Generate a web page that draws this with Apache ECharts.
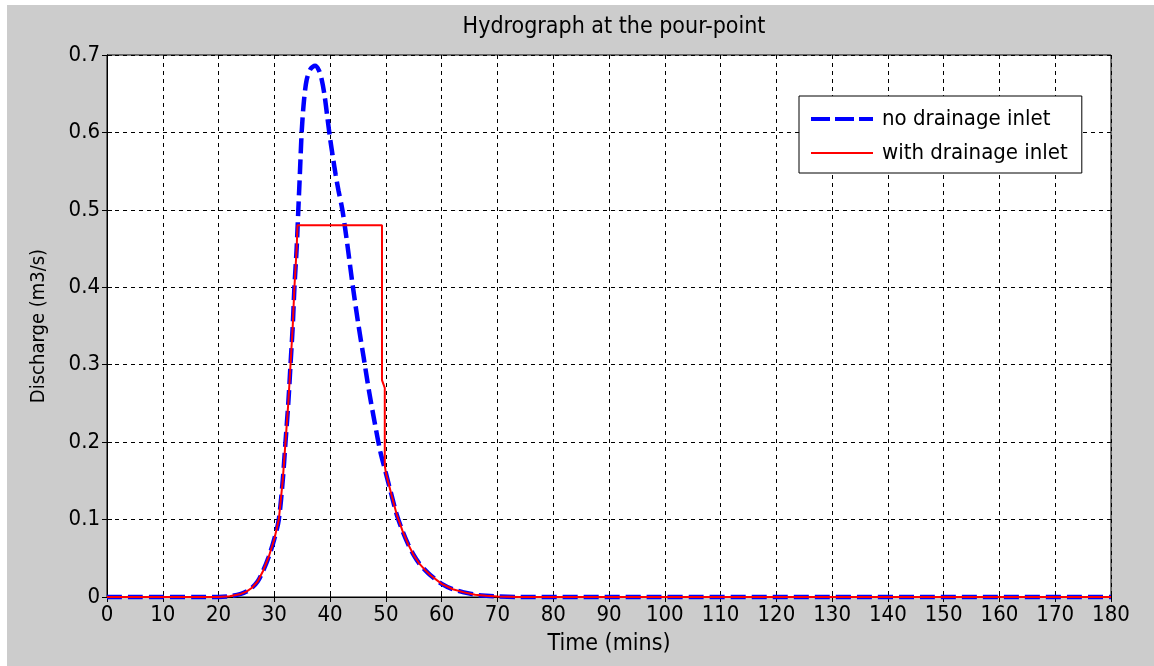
<!DOCTYPE html>
<html>
<head>
<meta charset="utf-8">
<script src="https://cdn.jsdelivr.net/npm/echarts@6/dist/echarts.min.js"></script>
<style>
  html, body { margin: 0; padding: 0; background: #ffffff; width: 1154px; height: 666px; overflow: hidden; }
  #chart { position: absolute; left: 7px; top: 5px; width: 1147px; height: 661px; background: #cccccc; }
</style>
</head>
<body>
<div id="chart"></div>
<script>
// ---- data ----
const titleText = 'Hydrograph at the pour-point';
const xAxisName = 'Time (mins)';
const yAxisName = 'Discharge (m3/s)';
const seriesNames = ['no drainage inlet', 'with drainage inlet'];

// No drainage inlet: time (min) and discharge (m3/s)
const blueTime = [0, 20, 22, 24, 25, 26, 27, 28, 29, 30, 30.8, 31.5, 32, 32.5, 32.9, 33.3, 33.6, 34, 34.3, 34.6, 34.9, 35.3, 35.8, 36.5, 37.3, 38, 38.5, 39, 39.5, 40, 40.5, 41, 41.5, 42.2, 43, 44, 45, 46, 47, 48, 49, 50, 51, 52, 53, 54, 55, 56, 57, 58, 60, 62, 64, 66, 68, 70, 74, 180];
const blueQ    = [0, 0, 0.001, 0.004, 0.007, 0.012, 0.02, 0.034, 0.052, 0.075, 0.1, 0.15, 0.2, 0.25, 0.3, 0.35, 0.4, 0.45, 0.5, 0.55, 0.6, 0.64, 0.668, 0.682, 0.686, 0.68, 0.668, 0.648, 0.62, 0.592, 0.568, 0.545, 0.525, 0.5, 0.46, 0.405, 0.355, 0.31, 0.265, 0.225, 0.188, 0.16, 0.132, 0.105, 0.085, 0.068, 0.054, 0.043, 0.035, 0.028, 0.017, 0.01, 0.006, 0.003, 0.0015, 0.0006, 0, 0];

// With drainage inlet: time (min) and discharge (m3/s)
const redTime = [0, 20, 22, 24, 25, 26, 27, 28, 29, 30, 30.8, 31.5, 32, 32.5, 32.9, 33.3, 33.6, 34, 34.15, 49.3, 49.3, 49.8, 49.8, 50, 51, 52, 53, 54, 55, 56, 57, 58, 60, 62, 64, 66, 68, 70, 74, 180];
const redQ    = [0, 0, 0.001, 0.004, 0.007, 0.012, 0.02, 0.034, 0.052, 0.075, 0.1, 0.15, 0.2, 0.25, 0.3, 0.35, 0.4, 0.45, 0.48, 0.48, 0.28, 0.27, 0.17, 0.16, 0.132, 0.105, 0.085, 0.068, 0.054, 0.043, 0.035, 0.028, 0.017, 0.01, 0.006, 0.003, 0.0015, 0.0006, 0, 0];

const xMin = 0, xMax = 180, xStep = 10;
const yMin = 0, yMax = 0.7, yStep = 0.1;

// ---- chart ----
const zip = (a, b) => a.map((v, i) => [v, b[i]]);
const FONT = '"DejaVu Sans Condensed", "Liberation Sans Narrow", sans-serif';
const gridDash = [4, 4];

const chart = echarts.init(document.getElementById('chart'), null, { renderer: 'canvas' });
chart.setOption({
  backgroundColor: '#cccccc',
  animation: false,
  title: {
    text: titleText,
    left: 602,
    top: 6,
    textAlign: 'center',
    textStyle: { fontFamily: FONT, fontSize: 23, fontWeight: 'normal', color: '#000' }
  },
  grid: {
    left: 100, top: 50, right: 43, bottom: 69,
    show: true, backgroundColor: '#ffffff', borderColor: '#000', borderWidth: 1
  },
  legend: {
    orient: 'vertical',
    left: 792, top: 91,
    backgroundColor: '#ffffff',
    borderColor: '#000', borderWidth: 1, borderRadius: 0,
    padding: [11, 14, 8, 12],
    itemWidth: 62, itemHeight: 4, itemGap: 10,
    textStyle: { fontFamily: FONT, fontSize: 22, color: '#000', lineHeight: 24, padding: [0, 0, 0, 4] },
    data: [
      { name: seriesNames[0], icon: 'path://M0,0h19v4h-19z M24,0h19v4h-19z M48,0h14v4h-14z', itemStyle: { color: '#0000ff' } },
      { name: seriesNames[1], icon: 'path://M0,0h62v2h-62z', itemStyle: { color: '#ff0000' } }
    ]
  },
  xAxis: [{
    type: 'value', min: xMin, max: xMax, interval: xStep,
    name: xAxisName, nameLocation: 'middle', nameGap: 36,
    nameTextStyle: { fontFamily: FONT, fontSize: 23, color: '#000' },
    axisLine: { show: true, lineStyle: { color: '#000', width: 1 } },
    axisTick: { show: true, inside: true, length: 5, lineStyle: { color: '#000' } },
    axisLabel: { fontFamily: FONT, fontSize: 22, color: '#000', margin: 7 },
    splitLine: { show: true, lineStyle: { color: '#000', type: gridDash, width: 1 } }
  }, {
    type: 'value', min: xMin, max: xMax, interval: xStep, position: 'top',
    axisLine: { show: true, lineStyle: { color: '#000' } },
    axisTick: { show: true, inside: true, length: 5, lineStyle: { color: '#000' } },
    axisLabel: { show: false }, splitLine: { show: false }
  }],
  yAxis: [{
    type: 'value', min: yMin, max: yMax, interval: yStep,
    name: yAxisName, nameLocation: 'middle', nameGap: 58, nameRotate: 90,
    nameTextStyle: { fontFamily: FONT, fontSize: 20, color: '#000' },
    axisLine: { show: true, lineStyle: { color: '#000', width: 1 } },
    axisTick: { show: true, inside: true, length: 5, lineStyle: { color: '#000' } },
    axisLabel: { fontFamily: FONT, fontSize: 22, color: '#000', margin: 7,
      formatter: v => (v === 0 ? '0' : v.toFixed(1)) },
    splitLine: { show: true, lineStyle: { color: '#000', type: gridDash, width: 1 } }
  }, {
    type: 'value', min: yMin, max: yMax, interval: yStep, position: 'right',
    axisLine: { show: true, lineStyle: { color: '#000' } },
    axisTick: { show: true, inside: true, length: 5, lineStyle: { color: '#000' } },
    axisLabel: { show: false }, splitLine: { show: false }
  }],
  series: [{
    name: seriesNames[0], type: 'line', xAxisIndex: 0, yAxisIndex: 0,
    data: zip(blueTime, blueQ), symbol: 'none', smooth: 0.3, clip: false,
    lineStyle: { color: '#0000ff', width: 4.5, type: [15, 6] },
    itemStyle: { color: '#0000ff' }
  }, {
    name: seriesNames[1], type: 'line', xAxisIndex: 0, yAxisIndex: 0,
    data: zip(redTime, redQ), symbol: 'none', clip: false,
    lineStyle: { color: '#ff0000', width: 2 },
    itemStyle: { color: '#ff0000' }
  }]
});
</script>
</body>
</html>
